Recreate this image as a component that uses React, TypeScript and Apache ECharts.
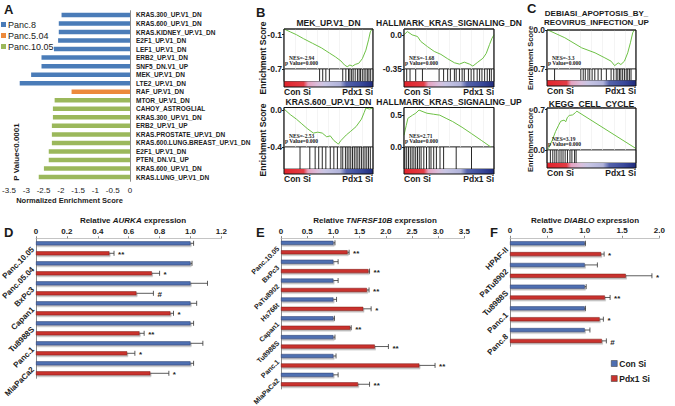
import React, { useEffect, useRef } from 'react';
import * as echarts from 'echarts';

const FONT = '"Liberation Sans", Arial, Helvetica, sans-serif';
const SERIF = '"Liberation Serif", "Times New Roman", serif';

// ---------------- Panel A data ----------------
const aCategories = [
  'KRAS.300_UP.V1_DN', 'KRAS.600_UP.V1_DN', 'KRAS.KIDNEY_UP.V1_DN', 'E2F1_UP.V1_DN', 'LEF1_UP.V1_DN',
  'ERB2_UP.V1_DN', 'SNF5_DN.V1_UP', 'MEK_UP.V1_DN', 'LTE2_UP.V1_DN', 'RAF_UP.V1_DN', 'MTOR_UP.V1_DN',
  'CAHOY_ASTROGLIAL', 'KRAS.300_UP.V1_DN', 'ERB2_UP.V1_UP', 'KRAS.PROSTATE_UP.V1_DN',
  'KRAS.600.LUNG.BREAST_UP.V1_DN', 'E2F1_UP.V1_DN', 'PTEN_DN.V1_UP', 'KRAS.600_UP.V1_DN', 'KRAS.LUNG_UP.V1_DN',
];
const aPanc8 = [-1.98, -2.06, -2.06, -2.08, -2.2, -2.56, -2.56, -2.86, -3.19, null, null, null, null, null, null, null, null, null, null, null];
const aPanc504 = [null, null, null, null, null, null, null, null, null, -1.69, null, null, null, null, null, null, null, null, null, null];
const aPanc1005 = [null, null, null, null, null, null, null, null, null, null, -2.18, -2.23, -2.23, -2.26, -2.26, -2.26, -2.35, -2.35, -2.49, -2.64];
const aSeriesNames = ['Panc.8', 'Panc.5.04', 'Panc.10.05'];

// ---------------- Panel B / C data (running enrichment score, hit ranks in %) ----------------
const mekTitle = ['MEK_UP.V1_DN'];
const mekCurve = [[0, 0], [7, -0.05], [14, -0.1], [22, -0.17], [32, -0.25], [42, -0.33], [51, -0.42], [58, -0.49], [64, -0.56], [68, -0.63], [71, -0.66], [74, -0.63], [77, -0.65], [80, -0.62], [84, -0.6], [88, -0.52], [92, -0.37], [95, -0.19], [97, -0.05], [99, 0]];
const mekHits = [40, 43.5, 47, 51, 66, 69.5, 72.5, 74, 76, 77.7, 80, 82.5, 84.4, 86, 88, 90, 92, 94, 95.5, 97.4];
const mekTicks = [-0.1, -0.7];
const mekNes = ['NES=-2.94', 'p Value=0.000'];

const krasDnTitle = ['HALLMARK_KRAS_SIGNALING_DN'];
const krasDnCurve = [[0, 0], [3.7, 0.034], [9, 0], [15, -0.017], [18.7, -0.068], [26, -0.12], [33.6, -0.17], [41, -0.2], [48.5, -0.245], [56, -0.286], [61.6, -0.3], [67, -0.28], [72.8, -0.3], [76.5, -0.32], [82, -0.28], [87.7, -0.24], [91.4, -0.19], [95, -0.1], [97.8, -0.034], [100, 0]];
const krasDnHits = [3, 6.7, 13, 20.5, 39, 44, 48.5, 51.5, 56, 58, 61.6, 64.6, 67, 71.6, 74.6, 77.6, 81.3, 84, 86.6, 89.6, 92.5, 95, 97];
const krasDnTicks = [0, -0.35];
const krasDnNes = ['NES=-1.68', 'p Value=0.000'];

const kras600Title = ['KRAS.600_UP.V1_DN'];
const kras600Curve = [[0, 0.01], [7, -0.05], [14, -0.1], [20, -0.15], [26, -0.2], [33, -0.25], [38, -0.24], [43, -0.25], [48, -0.29], [52, -0.28], [56, -0.33], [60, -0.36], [61, -0.37], [64, -0.33], [70, -0.27], [75, -0.23], [81, -0.18], [87, -0.1], [90, -0.03], [92, 0.02], [96, 0.01], [100, 0.02]];
const kras600Hits = [18, 29, 35, 39, 43, 47, 52, 56, 60, 64, 66, 69, 71, 73, 75, 77, 79, 81, 83, 85, 87, 89, 91, 93, 95, 97];
const kras600Ticks = [0, -0.4];
const kras600Nes = ['NES=-2.53', 'p Value=0.000'];

const krasUpTitle = ['HALLMARK_KRAS_SIGNALING_UP'];
const krasUpCurve = [[0, 0.185], [2.5, 0.34], [4.3, 0.45], [9.5, 0.5], [13, 0.53], [16.7, 0.58], [20, 0.56], [25.5, 0.53], [32.6, 0.515], [39.7, 0.5], [46.8, 0.45], [54, 0.4], [64.5, 0.31], [75, 0.21], [85.8, 0.105], [96.5, 0.0]];
const krasUpHits = [1, 3, 5, 7, 9, 11, 13, 15, 17, 19, 22, 25, 28, 30, 33, 36, 40, 44, 58, 75];
const krasUpTicks = [0.5, 0];
const krasUpNes = ['NES=2.71', 'p Value=0.000'];

const debiasiTitle = ['DEBIASI_APOPTOSIS_BY_', 'REOVIRUS_INFECTION_UP'];
const debiasiCurve = [[0, 0], [1, 0], [20, -0.139], [39, -0.32], [54, -0.41], [65, -0.5], [72, -0.56], [76, -0.64], [80, -0.59], [83, -0.62], [87, -0.56], [90.7, -0.41], [93.7, -0.23], [96.3, -0.05], [98, 0]];
const debiasiHits = [8.5, 38, 40.7, 43, 46, 48, 50.7, 53.7, 57.4, 61, 66.7, 72, 75, 77.8, 79.6, 81.5, 83, 85, 87, 89, 90.7, 92.6, 94.4];
const debiasiTicks = [0, -0.7];
const debiasiNes = ['NES=-3.3', 'p Value=0.000'];

const keggTitle = ['KEGG_CELL_CYCLE'];
const keggCurve = [[0, 0], [2, 0.04], [5.8, 0.167], [9.6, 0.32], [12.7, 0.42], [15.4, 0.5], [19.2, 0.52], [21, 0.49], [23, 0.57], [25, 0.6], [28.8, 0.61], [32, 0.65], [33.5, 0.675], [100, 0.025]];
const keggHits = [3.8, 6.5, 8.8, 11, 13.5, 15.8, 18, 20.4, 23, 25.8, 28, 31, 32.7];
const keggTicks = [0.7, 0];
const keggNes = ['NES=3.19', 'p Value=0.000'];

// ---------------- Panels D / E / F data ----------------
const dCategories = ['Panc.10.05', 'Panc.05.04', 'BxPc3', 'Capan1', 'Tu8988S', 'Panc.1', 'MiaPaCa2'];
const dCon = [1, 1, 1, 1, 1, 1, 1];
const dConErr = [0.02, 0.01, 0.11, 0.04, 0.02, 0.08, 0.02];
const dPdx = [0.475, 0.75, 0.65, 0.87, 0.67, 0.59, 0.74];
const dPdxErr = [0.03, 0.05, 0.11, 0.02, 0.03, 0.05, 0.12];
const dSig = ['**', '*', '#', '*', '**', '*', '*'];

const eCategories = ['Panc.10.05', 'BxPc3', 'PaTu8902', 'Hs766t', 'Capan1', 'Tu8988S', 'Panc.1', 'MiaPaCa2'];
const eCon = [1, 1, 1, 1, 1, 1, 1, 1];
const eConErr = [0.03, 0.09, 0.09, 0.06, 0.02, 0.03, 0.05, 0.09];
const ePdx = [1.27, 1.67, 1.64, 1.57, 1.32, 1.79, 2.64, 1.47];
const ePdxErr = [0.03, 0.02, 0.04, 0.15, 0.02, 0.26, 0.3, 0.22];
const eSig = ['**', '**', '**', '*', '**', '**', '**', '**'];

const fCategories = ['HPAF-II', 'PaTu8902', 'Tu8988S', 'Panc.1', 'Panc.8'];
const fCon = [1, 1, 1, 1, 1];
const fConErr = [0.01, 0.17, 0.02, 0.01, 0.07];
const fPdx = [1.22, 1.55, 1.27, 1.2, 1.23];
const fPdxErr = [0.04, 0.35, 0.07, 0.05, 0.06];
const fSig = ['*', '*', '**', '*', '#'];

const groupNames = ['Con Si', 'Pdx1 Si'];

// ---------------- styling helpers ----------------
const BLUE = '#4f6fb1';
const RED = '#c9322d';
const CB_STOPS = [
  { offset: 0, color: '#e1232b' }, { offset: 0.22, color: '#e23c45' }, { offset: 0.27, color: '#e6a2c0' },
  { offset: 0.38, color: '#dabfdc' }, { offset: 0.46, color: '#c8c6e4' }, { offset: 0.63, color: '#b0b3da' },
  { offset: 0.7, color: '#5563ab' }, { offset: 0.86, color: '#3a4a9c' }, { offset: 1, color: '#1f2b7d' },
];

function fmtTick(v: number) {
  const r = Math.round(v * 100) / 100;
  const s = String(r);
  return s.indexOf('.') >= 0 ? s : s + '.0';
}

function buildOption() {
  const grid: any[] = [];
  const xAxis: any[] = [];
  const yAxis: any[] = [];
  const series: any[] = [];
  const graphic: any[] = [];

  const addGrid = (g: any, x: any, y: any) => {
    const i = grid.length;
    grid.push({ outerBoundsMode: 'none', containLabel: false, ...g });
    xAxis.push({ gridIndex: i, ...x });
    yAxis.push({ gridIndex: i, ...y });
    return i;
  };

  const txt = (text: string, x: number, y: number, o: any = {}) => ({
    type: 'text', x, y, rotation: o.rotation || 0, z: 50,
    style: {
      text, fill: o.fill || '#1a1a1a', fontSize: o.size || 9, fontWeight: o.weight || 'bold',
      fontFamily: o.family || FONT, align: o.align || 'left', verticalAlign: o.va || 'middle',
      fontStyle: o.style || 'normal', rich: o.rich,
    },
  });

  // ---------------- Panel A ----------------
  const gA = addGrid(
    { left: 9, top: 10.7, width: 121, height: 170.6 },
    {
      type: 'value', min: -3.5, max: 0, interval: 0.5,
      axisLine: { show: false }, axisTick: { show: false }, splitLine: { show: false },
      axisLabel: { fontSize: 8, color: '#222', margin: 5, fontFamily: FONT, formatter: (v: number) => String(v) },
      name: 'Normalized Enrichment Score', nameLocation: 'middle', nameGap: 15,
      nameTextStyle: { fontSize: 7.5, fontWeight: 'bold', color: '#222', fontFamily: FONT },
    },
    {
      type: 'category', data: aCategories, inverse: true, position: 'right',
      axisLine: { show: true, lineStyle: { color: '#8a8a8a', width: 1 } }, axisTick: { show: false },
      axisLabel: { interval: 0, fontSize: 6.5, fontWeight: 'bold', color: '#222', margin: 6, fontFamily: FONT },
    },
  );
  const aColors = ['#4a7cb8', '#ec8a3c', '#9bb85b'];
  [aPanc8, aPanc504, aPanc1005].forEach((arr, k) => {
    series.push({
      type: 'bar', name: aSeriesNames[k], xAxisIndex: gA, yAxisIndex: gA, barWidth: 4.5, barGap: '-100%',
      data: arr.map((v) => (v === null ? '-' : v)),
      itemStyle: { color: aColors[k] },
    });
  });
  graphic.push(txt('A', 4, 9, { size: 13 }));
  graphic.push(txt('P Value<0.0001', 16, 152, { rotation: Math.PI / 2, align: 'center', size: 8 }));

  // ---------------- Panels B / C ----------------
  const gseaPlots = [
    { title: mekTitle, curve: mekCurve, hits: mekHits, ticks: mekTicks, nes: mekNes, yMin: -0.7, yMax: 0.0, x0: 284, x1: 373, yTop: 29, yLine: 69, yCb0: 81.5, yCb1: 87, titleY: 23, tSize: 8.5, tDx: 0 },
    { title: krasDnTitle, curve: krasDnCurve, hits: krasDnHits, ticks: krasDnTicks, nes: krasDnNes, yMin: -0.35, yMax: 0.06, x0: 404, x1: 494, yTop: 29, yLine: 69, yCb0: 81.5, yCb1: 87, titleY: 23, tSize: 8.5, tDx: 0 },
    { title: kras600Title, curve: kras600Curve, hits: kras600Hits, ticks: kras600Ticks, nes: kras600Nes, yMin: -0.4, yMax: 0.026, x0: 284, x1: 373, yTop: 107.5, yLine: 147, yCb0: 169, yCb1: 174, titleY: 101.5, tSize: 8.5, tDx: 0 },
    { title: krasUpTitle, curve: krasUpCurve, hits: krasUpHits, ticks: krasUpTicks, nes: krasUpNes, yMin: 0, yMax: 0.62, x0: 404, x1: 494, yTop: 107.5, yLine: 147, yCb0: 169, yCb1: 174, titleY: 101.5, tSize: 8.5, tDx: 0 },
    { title: debiasiTitle, curve: debiasiCurve, hits: debiasiHits, ticks: debiasiTicks, nes: debiasiNes, yMin: -0.7, yMax: 0.0, x0: 547, x1: 636, yTop: 30, yLine: 69, yCb0: 80.5, yCb1: 86, titleY: 13, tSize: 8, tDx: 5 },
    { title: keggTitle, curve: keggCurve, hits: keggHits, ticks: keggTicks, nes: keggNes, yMin: 0, yMax: 0.73, x0: 547, x1: 636, yTop: 108, yLine: 150, yCb0: 163, yCb1: 168, titleY: 103.5, tSize: 8.5, tDx: 0 },
  ];

  gseaPlots.forEach((p) => {
    const w = p.x1 - p.x0;
    const gc = addGrid(
      { left: p.x0, top: p.yTop, width: w, height: p.yLine - p.yTop, show: true, borderColor: '#222', borderWidth: 0.8, backgroundColor: '#fff' },
      {
        type: 'value', min: 0, max: 100, interval: 12.5,
        axisLine: { show: false }, axisTick: { show: false }, axisLabel: { show: false },
        splitLine: { show: true, lineStyle: { color: '#ececec', width: 0.6 } },
      },
      {
        type: 'value', min: p.yMin, max: p.yMax,
        axisLine: { show: false }, splitLine: { show: false },
        axisTick: { show: true, customValues: p.ticks, length: 2, lineStyle: { color: '#222' } },
        axisLabel: { customValues: p.ticks, formatter: (v: number) => fmtTick(v), fontSize: 8.5, fontWeight: 'bold', color: '#222', margin: 2, fontFamily: FONT },
      },
    );
    series.push({
      type: 'line', xAxisIndex: gc, yAxisIndex: gc, data: p.curve, symbol: 'none', z: 4,
      lineStyle: { color: '#6ec146', width: 1 },
    });
    const gh = addGrid(
      { left: p.x0, top: p.yLine, width: w, height: p.yCb0 - p.yLine, show: true, borderColor: '#222', borderWidth: 0.8, backgroundColor: '#fff' },
      { type: 'value', min: 0, max: 100, show: false },
      { type: 'value', min: 0, max: 1, show: false },
    );
    series.push({
      type: 'custom', xAxisIndex: gh, yAxisIndex: gh, data: p.hits.map((h) => [h, 0]), encode: { x: 0, y: 1 },
      renderItem: (params: any, api: any) => {
        const a = api.coord([api.value(0), 0]);
        const b = api.coord([api.value(0), 1]);
        return { type: 'line', shape: { x1: a[0], y1: a[1], x2: b[0], y2: b[1] }, style: { stroke: '#111', lineWidth: 0.9 } };
      },
    });
    graphic.push({
      type: 'rect', z: 20,
      shape: { x: p.x0, y: p.yCb0, width: w, height: p.yCb1 - p.yCb0 },
      style: { fill: new echarts.graphic.LinearGradient(0, 0, 1, 0, CB_STOPS) },
    });
    graphic.push({
      type: 'rect', z: 60,
      shape: { x: p.x0, y: p.yTop, width: w, height: p.yCb1 - p.yTop },
      style: { fill: 'none', stroke: '#111', lineWidth: 1 },
    });
    const cx = (p.x0 + p.x1) / 2 + p.tDx;
    p.title.forEach((t, k) => {
      const ty = p.titleY + k * 9.5;
      graphic.push(txt(t, cx, ty, { align: 'center', size: p.tSize }));
    });
    graphic.push(txt('Con Si', p.x0, p.yCb1 + 5, { size: 8.5 }));
    graphic.push(txt('Pdx1 Si', p.x1, p.yCb1 + 5, { size: 8.5, align: 'right' }));
    graphic.push(txt(p.nes[0], p.x0 + 5, p.yLine - 11, { size: 5.5, family: SERIF }));
    graphic.push(txt(p.nes[1], p.x0 + 1, p.yLine - 6, { size: 5.5, family: SERIF }));
  });

  graphic.push(txt('B', 256, 12, { size: 13 }));
  graphic.push(txt('C', 527, 8, { size: 13 }));
  graphic.push(txt('Enrichment Score', 263, 58, { rotation: Math.PI / 2, align: 'center', size: 8.5 }));
  graphic.push(txt('Enrichment Score', 263, 140, { rotation: Math.PI / 2, align: 'center', size: 8.5 }));
  graphic.push(txt('Enrichment Score', 530, 58, { rotation: Math.PI / 2, align: 'center', size: 7.5 }));
  graphic.push(txt('Enrichment Score', 530, 140, { rotation: Math.PI / 2, align: 'center', size: 7.5 }));

  // ---------------- Panels D / E / F ----------------
  const barPanels = [
    { cats: dCategories, con: dCon, conErr: dConErr, pdx: dPdx, pdxErr: dPdxErr, sig: dSig, max: 1.2, interval: 0.2, gene: 'AURKA', left: 36, width: 185.4, top: 238.3, band: 20, letter: 'D', lx: 4, titleX: 133, catSize: 8 },
    { cats: eCategories, con: eCon, conErr: eConErr, pdx: ePdx, pdxErr: ePdxErr, sig: eSig, max: 3.5, interval: 0.5, gene: 'TNFRSF10B', left: 281, width: 183.4, top: 238.1, band: 18.86, letter: 'E', lx: 256, titleX: 375, catSize: 7 },
    { cats: fCategories, con: fCon, conErr: fConErr, pdx: fPdx, pdxErr: fPdxErr, sig: fSig, max: 2.0, interval: 0.5, gene: 'DIABLO', left: 510, width: 149.4, top: 237.8, band: 21.7, letter: 'F', lx: 490, titleX: 585, catSize: 8 },
  ];

  barPanels.forEach((p) => {
    const h = p.band * p.cats.length;
    const g = addGrid(
      { left: p.left, top: p.top, width: p.width, height: h },
      {
        type: 'value', position: 'top', min: 0, max: p.max, interval: p.interval,
        axisLine: { show: true, lineStyle: { color: '#b5b5b5', width: 0.8 } },
        axisTick: { show: true, length: 2, lineStyle: { color: '#888' } },
        splitLine: { show: false },
        axisLabel: { fontSize: 8, fontWeight: 'bold', color: '#222', margin: 3, fontFamily: FONT, formatter: (v: number) => (v === 0 ? '0' : v.toFixed(1)) },
      },
      {
        type: 'category', data: p.cats, inverse: true,
        axisLine: { show: true, lineStyle: { color: '#8a8a8a', width: 1 } }, axisTick: { show: false },
        axisLabel: { interval: 0, rotate: 45, fontSize: p.catSize, fontWeight: 'bold', color: '#222', margin: 3, fontFamily: FONT },
      },
    );
    const gap = ((p.band / 2 - 4) / 4) * 100;
    [p.con, p.pdx].forEach((arr, k) => {
      series.push({
        type: 'bar', name: groupNames[k], xAxisIndex: g, yAxisIndex: g, data: arr, barWidth: 4, barGap: gap + '%',
        itemStyle: {
          color: k === 0 ? BLUE : RED, borderColor: k === 0 ? '#2c3f6e' : '#7d1c19', borderWidth: 0.5,
          shadowColor: 'rgba(0,0,0,0.3)', shadowOffsetX: 1, shadowOffsetY: 1.5, shadowBlur: 1,
        },
      });
    });
    const nCon = p.con.length;
    series.push({
      type: 'custom', xAxisIndex: g, yAxisIndex: g, z: 6,
      data: [...p.con.map((v, i) => [v, i, p.conErr[i], -1]), ...p.pdx.map((v, i) => [v, i, p.pdxErr[i], 1])],
      encode: { x: 0, y: 1 },
      renderItem: (params: any, api: any) => {
        const v = api.value(0), c = api.value(1), e = api.value(2), side = api.value(3);
        const band = api.size([0, 1])[1];
        const a = api.coord([v, c]);
        const b = api.coord([v + e, c]);
        const y = a[1] + (side * band) / 4;
        const children: any[] = [
          { type: 'line', shape: { x1: a[0], y1: y, x2: b[0], y2: y }, style: { stroke: '#333', lineWidth: 0.8 } },
          { type: 'line', shape: { x1: b[0], y1: y - 2.5, x2: b[0], y2: y + 2.5 }, style: { stroke: '#333', lineWidth: 0.8 } },
        ];
        const idx = params.dataIndex - nCon;
        if (idx >= 0 && p.sig[idx]) {
          children.push({
            type: 'text', x: b[0] + 4, y: y + 1.5,
            style: { text: p.sig[idx], fontSize: 8, fontWeight: 'bold', fill: '#222', align: 'left', verticalAlign: 'middle', fontFamily: FONT },
          });
        }
        return { type: 'group', children };
      },
    });
    graphic.push(txt(p.letter, p.lx, 232, { size: 13 }));
    graphic.push({
      type: 'text', x: p.titleX, y: 220.5, z: 50,
      style: {
        text: '{b|Relative }{i|' + p.gene + '}{b| expression}', align: 'center', verticalAlign: 'middle',
        rich: {
          b: { fontSize: 8, fontWeight: 'bold', fontFamily: FONT, fill: '#1a1a1a' },
          i: { fontSize: 8, fontWeight: 'bold', fontStyle: 'italic', fontFamily: FONT, fill: '#1a1a1a' },
        },
      },
    });
  });

  return {
    animation: false,
    backgroundColor: '#ffffff',
    textStyle: { fontFamily: FONT },
    grid, xAxis, yAxis, series, graphic,
    legend: [
      {
        data: aSeriesNames, orient: 'vertical', left: 1, top: 20, itemWidth: 5, itemHeight: 5, itemGap: 2, padding: 0,
        icon: 'rect', textStyle: { fontSize: 9, color: '#1a1a1a', fontFamily: FONT, lineHeight: 7, padding: [0, 0, 0, -3] },
      },
      {
        data: groupNames, orient: 'vertical', left: 611, top: 359, itemWidth: 6, itemHeight: 6, itemGap: 6, padding: 0,
        icon: 'rect', textStyle: { fontSize: 8.5, fontWeight: 'bold', color: '#1a1a1a', fontFamily: FONT, padding: [0, 0, 0, -3] },
        itemStyle: { borderWidth: 0.5, borderColor: '#333' },
      },
    ],
  };
}

export default function App() {
  const ref = useRef<HTMLDivElement>(null);
  useEffect(() => {
    if (!ref.current) return;
    const chart = echarts.init(ref.current, undefined, { renderer: 'svg' });
    chart.setOption(buildOption() as any);
    return () => chart.dispose();
  }, []);
  return <div ref={ref} style={{ position: 'absolute', left: 0, top: 0, width: 675, height: 406 }} />;
}
